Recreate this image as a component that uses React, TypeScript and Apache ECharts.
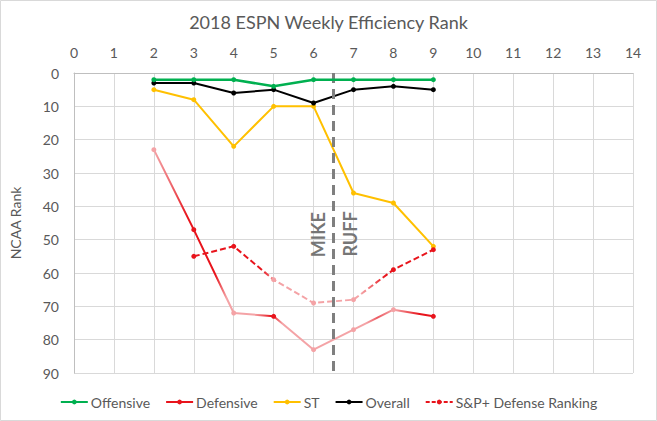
import React, { useEffect, useRef } from "react";
import * as echarts from "echarts";

const weeks = [2, 3, 4, 5, 6, 7, 8, 9];
const offensive = [2, 2, 2, 4, 2, 2, 2, 2];
const defensive = [23, 47, 72, 73, 83, 77, 71, 73];
const specialTeams = [5, 8, 22, 10, 10, 36, 39, 52];
const overall = [3, 3, 6, 5, 9, 5, 4, 5];
const spWeeks = [3, 4, 5, 6, 7, 8, 9];
const spDefense = [55, 52, 62, 69, 68, 59, 53];
const coachChangeWeek = 6.5;
const annotations = [
  { name: "MIKE", week: 6.12, rank: 48.5 },
  { name: "RUFF", week: 6.9, rank: 48.3 },
];

const FONT = "Lato, 'Open Sans', sans-serif";
const TXT = "#595959";
const RED = "#E8141C";
const PINK = "#F4A3A6";

export default function App() {
  const ref = useRef<HTMLDivElement>(null);
  useEffect(() => {
    if (!ref.current) return;
    const chart = echarts.init(ref.current, undefined, { renderer: "svg" });
    const pair = (xs: number[], ys: number[]) => xs.map((x, i) => [x, ys[i]]);
    const defMarker = [PINK, RED, PINK, RED, PINK, PINK, PINK, RED];
    const spMarker = [RED, RED, PINK, PINK, PINK, RED, RED];
    const defGrad = new echarts.graphic.LinearGradient(0, 0, 1, 0, [
      { offset: 0, color: PINK },
      { offset: 0.06, color: "#EE6A70" },
      { offset: 0.12, color: RED },
      { offset: 0.22, color: RED },
      { offset: 0.26, color: PINK },
      { offset: 0.36, color: PINK },
      { offset: 0.42, color: RED },
      { offset: 0.46, color: PINK },
      { offset: 0.76, color: PINK },
      { offset: 0.8, color: "#EC5A62" },
      { offset: 0.86, color: PINK },
      { offset: 0.95, color: RED },
      { offset: 1, color: RED },
    ]);
    const spGrad = new echarts.graphic.LinearGradient(0, 0, 1, 0, [
      { offset: 0, color: RED },
      { offset: 0.28, color: RED },
      { offset: 0.36, color: PINK },
      { offset: 0.7, color: PINK },
      { offset: 0.8, color: RED },
      { offset: 1, color: RED },
    ]);
    chart.setOption({
      animation: false,
      backgroundColor: "#fff",
      textStyle: { fontFamily: FONT },
      title: {
        text: "2018 ESPN Weekly Efficiency Rank",
        left: "center",
        top: 8,
        textStyle: { fontFamily: FONT, fontSize: 18, fontWeight: "normal", color: TXT },
      },
      graphic: [
        {
          type: "rect",
          shape: { x: 0.5, y: 0.5, width: 656, height: 420 },
          style: { fill: "none", stroke: "#d9d9d9", lineWidth: 1 },
          silent: true,
        },
      ],
      grid: { left: 70, right: 24, top: 73, bottom: 48 },
      legend: {
        bottom: 7,
        left: "center",
        itemGap: 15,
        itemWidth: 27,
        itemHeight: 6,
        textStyle: { fontFamily: FONT, fontSize: 14, color: TXT, padding: [0, 0, 0, -2] },
        data: [
          { name: "Offensive" },
          { name: "Defensive", itemStyle: { color: RED }, lineStyle: { color: RED } },
          { name: "ST" },
          { name: "Overall" },
          {
            name: "S&P+ Defense Ranking",
            itemStyle: { color: RED },
            lineStyle: { color: RED, type: [4, 2] },
          },
        ],
      },
      xAxis: {
        type: "value",
        position: "top",
        min: 0,
        max: 14,
        interval: 1,
        axisLine: { show: true, lineStyle: { color: "#bfbfbf" } },
        axisTick: { show: false },
        axisLabel: { fontFamily: FONT, fontSize: 14, color: TXT, margin: 14 },
        splitLine: { show: true, lineStyle: { color: "#d9d9d9" } },
      },
      yAxis: {
        type: "value",
        inverse: true,
        min: 0,
        max: 90,
        interval: 10,
        name: "NCAA Rank",
        nameLocation: "middle",
        nameGap: 52,
        nameTextStyle: { fontFamily: FONT, fontSize: 14, color: TXT },
        axisLine: { show: true, lineStyle: { color: "#bfbfbf" } },
        axisTick: { show: false },
        axisLabel: { fontFamily: FONT, fontSize: 14, color: TXT, margin: 15 },
        splitLine: { show: true, lineStyle: { color: "#d9d9d9" } },
      },
      series: [
        {
          name: "Offensive",
          type: "line",
          data: pair(weeks, offensive),
          symbol: "circle",
          symbolSize: 5,
          itemStyle: { color: "#00B050" },
          lineStyle: { color: "#00B050", width: 2.5 },
          z: 5,
        },
        {
          name: "Defensive",
          type: "line",
          data: pair(weeks, defensive).map((v, i) => ({
            value: v,
            itemStyle: { color: defMarker[i] },
          })),
          symbol: "circle",
          symbolSize: 5,
          itemStyle: { color: RED },
          lineStyle: { color: defGrad, width: 2 },
          z: 3,
        },
        {
          name: "ST",
          type: "line",
          data: pair(weeks, specialTeams),
          symbol: "circle",
          symbolSize: 5,
          itemStyle: { color: "#FFC000" },
          lineStyle: { color: "#FFC000", width: 2 },
          z: 3,
        },
        {
          name: "Overall",
          type: "line",
          data: pair(weeks, overall),
          symbol: "circle",
          symbolSize: 5,
          itemStyle: { color: "#000000" },
          lineStyle: { color: "#000000", width: 2 },
          z: 4,
          markLine: {
            silent: true,
            symbol: "none",
            label: { show: false },
            lineStyle: { color: "#7f7f7f", width: 3, type: [10, 6] },
            data: [{ xAxis: coachChangeWeek }],
          },
          markPoint: {
            silent: true,
            symbol: "circle",
            symbolSize: 0,
            data: annotations.map((a) => ({
              coord: [a.week, a.rank],
              label: {
                show: true,
                formatter: a.name,
                rotate: 90,
                position: "inside",
                fontFamily: FONT,
                fontSize: 18,
                fontWeight: "bold",
                color: "#767676",
              },
            })),
          },
        },
        {
          name: "S&P+ Defense Ranking",
          type: "line",
          data: pair(spWeeks, spDefense).map((v, i) => ({
            value: v,
            itemStyle: { color: spMarker[i] },
          })),
          symbol: "circle",
          symbolSize: 5,
          itemStyle: { color: RED },
          lineStyle: { color: spGrad, width: 2, type: [6, 3] },
          z: 3,
        },
      ],
    });
    return () => chart.dispose();
  }, []);
  return (
    <div
      ref={ref}
      style={{ position: "fixed", left: 0, top: 0, width: 657, height: 421 }}
    />
  );
}
